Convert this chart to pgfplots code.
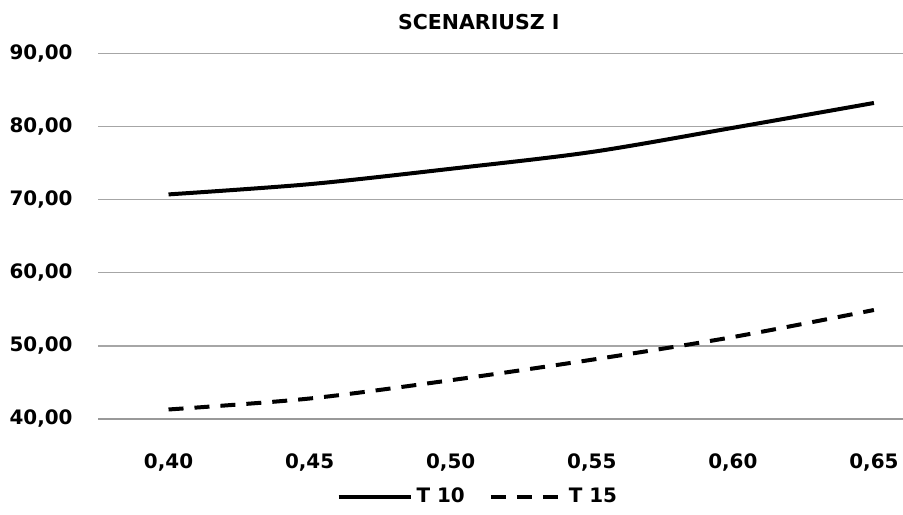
\documentclass[border=0pt]{standalone}
\usepackage{fontspec}
\setmainfont{DejaVu Sans}
\usepackage{pgfplots}
\pgfplotsset{compat=1.18}
\begin{document}
\begin{tikzpicture}
\path[use as bounding box] (0,0) rectangle (451.5bp,257.5bp);
\begin{axis}[
  scale only axis, width=402.5bp, height=182.9bp,
  at={(49bp,48bp)}, anchor=south west,
  xmin=0.375, xmax=0.6603, ymin=40, ymax=90,
  axis x line*=bottom, axis y line*=left,
  x axis line style={draw=gray!80, line width=1bp, -},
  y axis line style={draw=none},
  major tick length=0,
  xtick={0.40,0.45,0.50,0.55,0.60,0.65},
  xticklabels={{0,40},{0,45},{0,50},{0,55},{0,60},{0,65}},
  ytick={40,50,60,70,80,90},
  yticklabels={{40,00},{50,00},{60,00},{70,00},{80,00},{90,00}},
  ymajorgrids, grid style={draw=gray!70, line width=0.7bp},
  tick label style={font=\bfseries\fontsize{10}{12}\selectfont},
  yticklabel style={xshift=-9.2bp},
  xticklabel style={yshift=-13.7bp},
  title={\bfseries SCENARIUSZ I},
  title style={at={(0.473,1.033)}, anchor=base, font=\bfseries\fontsize{10.3}{12}\selectfont},
  legend style={at={(0.473,-0.213)}, anchor=center, draw=none,
    font=\bfseries\fontsize{10}{12}\selectfont,
    /tikz/every even column/.append style={column sep=10bp}},
  legend columns=2,
  legend image code/.code={\draw[#1] (0bp,0bp) -- (36bp,0bp);},
]
\addplot[black, line width=2bp, smooth] coordinates {
  (0.40,70.7) (0.45,72.1) (0.50,74.2) (0.55,76.5) (0.60,79.8) (0.65,83.2)};
\addlegendentry{T 10}
\addplot[black, line width=2bp, smooth, dash pattern=on 7.5bp off 5.5bp] coordinates {
  (0.40,41.3) (0.45,42.8) (0.50,45.3) (0.55,48.1) (0.60,51.2) (0.65,54.9)};
\addlegendentry{T 15}
\end{axis}
\end{tikzpicture}
\end{document}
